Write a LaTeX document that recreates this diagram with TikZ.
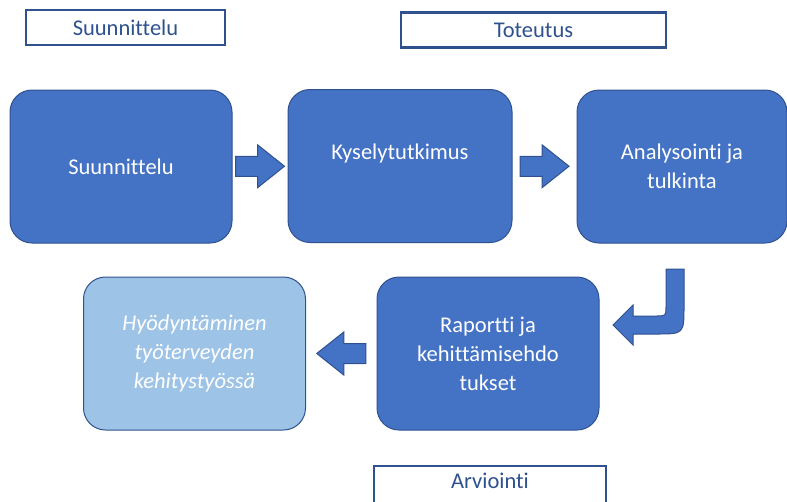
\documentclass[tikz,border=0pt]{standalone}
\usepackage{fontspec}
\setmainfont{Carlito}[Ligatures=NoCommon]
\usetikzlibrary{calc}
\definecolor{boxblue}{HTML}{4472C4}
\definecolor{edgeblue}{HTML}{2F528F}
\definecolor{lightblue}{HTML}{9DC3E6}
\tikzset{
  phase/.style={draw=edgeblue, line width=1pt, fill=boxblue, rounded corners=22pt,
    minimum width=222pt, minimum height=153pt, inner sep=0pt, text=white,
    align=center, font=\fontsize{22.5}{29}\selectfont},
  tag/.style={draw=edgeblue, line width=2.5pt, fill=white, minimum height=35pt,
    inner sep=0pt, text=edgeblue, font=\fontsize{22.5}{27}\selectfont},
  blockarrow/.pic={
    \filldraw[fill=boxblue, draw=edgeblue, line width=1pt] (-24.5,10) -- (-2.5,10) -- (-2.5,21.5)
      -- (24.5,0) -- (-2.5,-21.5) -- (-2.5,-10) -- (-24.5,-10) -- cycle;
  }
}
\begin{document}
\begin{tikzpicture}[x=1pt,y=-1pt]
    \useasboundingbox (0,0) rectangle (787,501);
    \clip (0,0) rectangle (787,501);
    % phase labels
    \node[tag, minimum width=199pt] (t1) at (125.5,27.5) {Suunnittelu};
    \node[tag, minimum width=265pt] (t2) at (533.5,30) {Toteutus};
    \node[tag, minimum width=232pt, minimum height=42pt, text depth=12pt] (t3) at (490,487) {Arviointi};
    % process boxes
    \node[phase] (s) at (121,166.5) {Suunnittelu};
    \node[phase, minimum width=224pt] (k) at (400,166) {Kyselytutkimus\\\mbox{}};
    \node[phase, minimum width=210pt] (a) at (682,166.5) {Analysointi ja\\tulkinta};
    \node[phase] (r) at (488,353.5) {Raportti ja\\kehittämisehdo\\tukset};
    \node[phase, fill=lightblue, font=\fontsize{22.5}{29}\selectfont\itshape] (h) at (194.5,353.5) {Hyödyntäminen\\työterveyden\\kehitystyössä};
    % block arrows between the boxes
    \pic at ($(s.east)!.5!(k.west)$) {blockarrow};
    \pic at ($(k.east)!.5!(a.west)$) {blockarrow};
    \pic[rotate=180] at ($(r.west)!.5!(h.east)$) {blockarrow};
    % bent arrow down to the report
    \filldraw[fill=boxblue, draw=edgeblue, line width=1pt] (666,269) -- (684,269) -- (684,306)
      .. controls (684,334) .. (656,334) -- (633,334) -- (633,345) -- (613,325) -- (633,305)
      -- (633,316) -- (656,316) .. controls (666,316) .. (666,306) -- cycle;
\end{tikzpicture}
\end{document}
